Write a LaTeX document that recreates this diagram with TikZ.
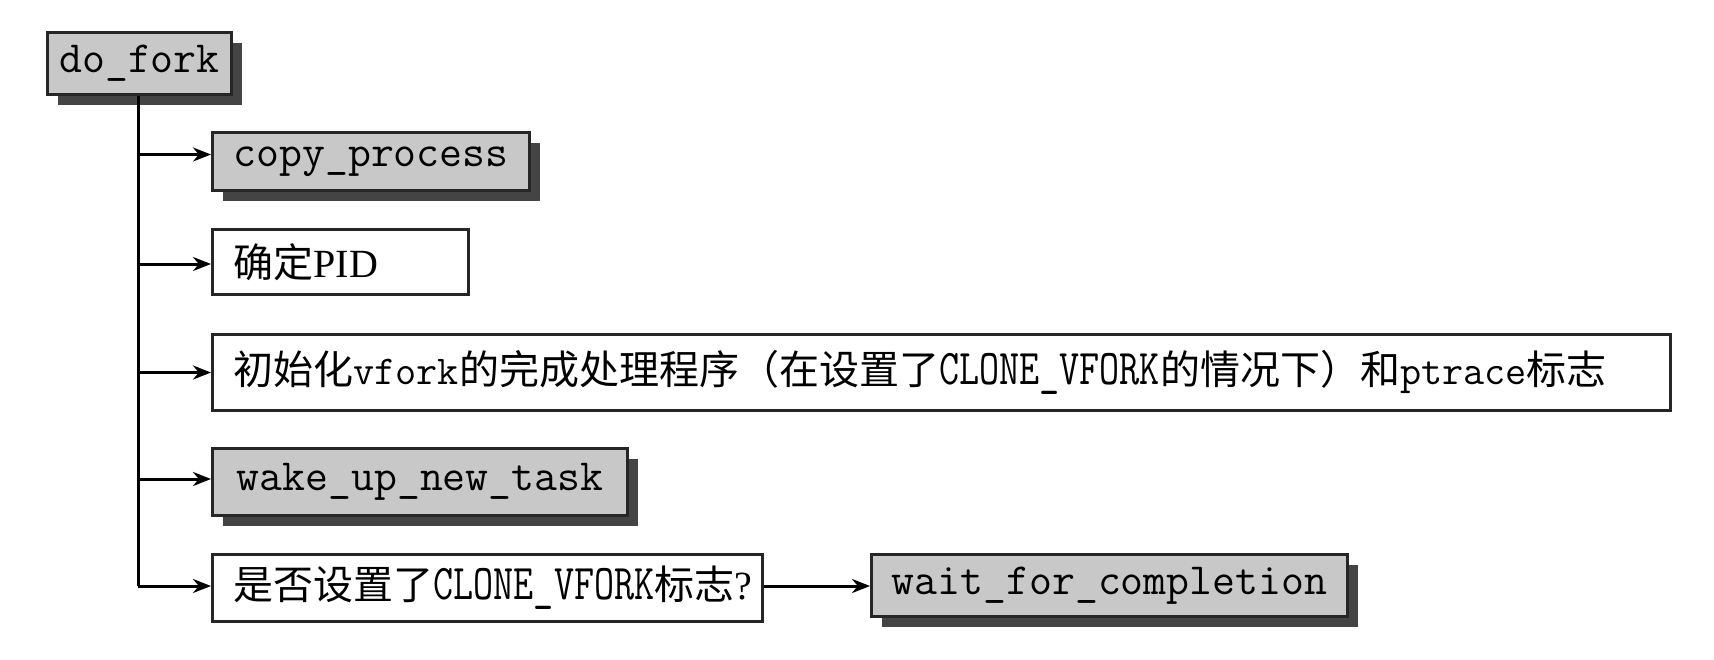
\documentclass[tikz,border=0pt]{standalone}
\usepackage{fontspec}
\usepackage{graphicx}
\setmainfont{Liberation Serif}
\newfontfamily\cjk{Noto Sans CJK SC}
\usetikzlibrary{shadows,arrows.meta}
\definecolor{boxgray}{HTML}{C8C8C8}
\definecolor{shadowgray}{HTML}{444444}
\definecolor{boxline}{HTML}{262626}
\newcommand{\codefont}{\ttfamily\fontsize{44.5}{48}\selectfont}
\newcommand{\cjkfont}{\cjk\fontsize{40}{46}\selectfont}
\newcommand{\tinl}[1]{{\ttfamily\fontsize{41}{44}\selectfont #1}}
\newcommand{\cflag}[1]{\scalebox{0.78}[1]{\ttfamily\fontsize{50}{50}\selectfont #1}}
\tikzset{
  base/.style={draw=boxline, line width=3pt, anchor=north west, inner ysep=0pt, inner xsep=0pt},
  gbox/.style={base, fill=boxgray, font=\codefont, align=center,
    drop shadow={shadow xshift=10pt, shadow yshift=-10pt, fill=shadowgray, opacity=1}},
  wbox/.style={base, fill=white, font=\cjkfont, align=left, inner xsep=21pt},
  link/.style={line width=3pt, draw=black, -{Stealth[length=18pt,width=14pt]}}
}
\begin{document}
\begin{tikzpicture}[x=1pt,y=-1pt]
\useasboundingbox (0,0) rectangle (1714,659);
% nodes
\node[gbox, minimum width=184pt, minimum height=62pt] (dofork) at (46,31) {do\_fork};
\node[gbox, minimum width=317pt, minimum height=58pt] (copy) at (211,131) {copy\_process};
\node[wbox, minimum height=65pt, text width=214pt] (pid) at (211,228) {确定{\rmfamily PID}};
\node[wbox, minimum height=76pt, text width=1416pt] (init) at (211,333)
  {初始化\tinl{vfork}的完成处理程序（在设置了\cflag{CLONE\_VFORK}的情况下）和\tinl{ptrace}标志};
\node[wbox, minimum height=67pt, text width=508pt] (check) at (211,553)
  {是否设置了\cflag{CLONE\_VFORK}标志{\rmfamily ?}};
\node[gbox, minimum width=415pt, minimum height=67pt] (wake) at (211,447) {wake\_up\_new\_task};
\node[gbox, minimum width=476pt, minimum height=62pt] (wait) at (870,553) {wait\_for\_completion};
% trunk
\coordinate (trunkend) at (138,586);
\draw[line width=3pt] (dofork.south -| trunkend) -- (trunkend);
% branches
\draw[link] ([yshift=7pt]copy.west -| trunkend) -- ([yshift=7pt]copy.west);
\draw[link] ([yshift=-2pt]pid.west -| trunkend) -- ([yshift=-2pt]pid.west);
\draw[link] (init.west -| trunkend) -- (init.west);
\draw[link] ([yshift=3pt]wake.west -| trunkend) -- ([yshift=3pt]wake.west);
\draw[link] (trunkend) -- (check.west |- trunkend);
\draw[link] (check.east |- trunkend) -- (wait.west |- trunkend);
\end{tikzpicture}
\end{document}
